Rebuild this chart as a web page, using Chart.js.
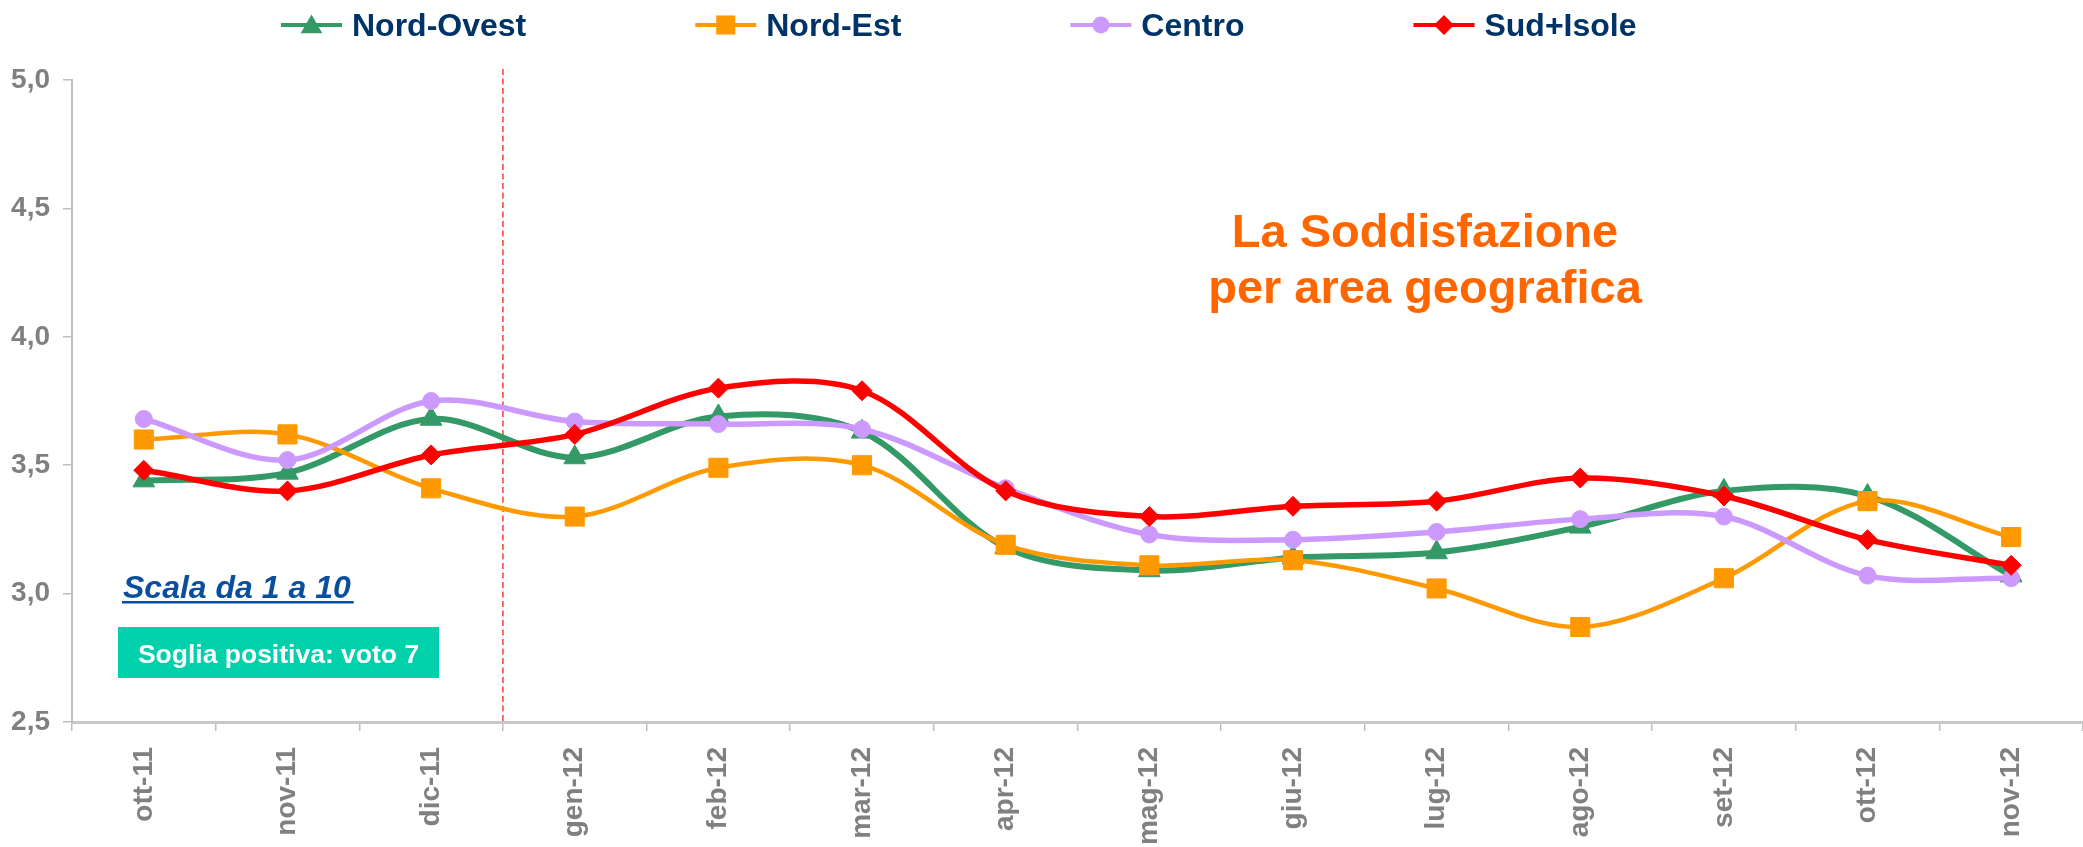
<!DOCTYPE html>
<html>
<head>
<meta charset="utf-8">
<script src="https://cdn.jsdelivr.net/npm/chart.js@4.4.1/dist/chart.umd.min.js"></script>
<style>
  html, body { margin: 0; padding: 0; background: #ffffff; }
  #wrap { width: 2083px; height: 847px; position: relative; }
</style>
</head>
<body>
<div id="wrap"><canvas id="c" width="2083" height="847"></canvas></div>
<script>
// ---------------- DATA ----------------
const categories = ['ott-11','nov-11','dic-11','gen-12','feb-12','mar-12','apr-12','mag-12','giu-12','lug-12','ago-12','set-12','ott-12','nov-12'];
const seriesNames = ['Nord-Ovest', 'Nord-Est', 'Centro', 'Sud+Isole'];
const nordOvest = [3.44, 3.47, 3.68, 3.53, 3.69, 3.63, 3.18, 3.09, 3.14, 3.16, 3.26, 3.40, 3.38, 3.07];
const nordEst   = [3.60, 3.62, 3.41, 3.30, 3.49, 3.50, 3.19, 3.11, 3.13, 3.02, 2.87, 3.06, 3.36, 3.22];
const centro    = [3.68, 3.52, 3.75, 3.67, 3.66, 3.64, 3.41, 3.23, 3.21, 3.24, 3.29, 3.30, 3.07, 3.06];
const sudIsole  = [3.48, 3.40, 3.54, 3.62, 3.80, 3.79, 3.40, 3.30, 3.34, 3.36, 3.45, 3.38, 3.21, 3.11];
const yTickLabels = ['2,5', '3,0', '3,5', '4,0', '4,5', '5,0'];
const titleLines = ['La Soddisfazione', 'per area geografica'];
const scaleNote = 'Scala da 1 a 10';
const thresholdNote = 'Soglia positiva: voto 7';
const dividerAfter = 'dic-11';

// ---------------- STYLE ----------------
const FONT = '"Liberation Sans", Arial, Helvetica, sans-serif';
const LABEL_GRAY = '#808080';
const AXIS_GRAY = '#bfbfbf';
const seriesStyles = [
  { color: '#339966', pointStyle: 'triangle', radius: 12.5, width: 6 },
  { color: '#ff9900', pointStyle: 'rect',     radius: 13.5, width: 4.5 },
  { color: '#cc99ff', pointStyle: 'circle',   radius: 8.5,  width: 5.5 },
  { color: '#ff0000', pointStyle: 'rectRot',  radius: 10,   width: 5.5 }
];
const seriesValues = [nordOvest, nordEst, centro, sudIsole];

const datasets = seriesNames.map((name, i) => {
  const s = seriesStyles[i];
  return {
    label: name,
    data: seriesValues[i],
    borderColor: s.color,
    backgroundColor: s.color,
    borderWidth: s.width,
    pointStyle: s.pointStyle,
    pointRadius: s.radius,
    pointHoverRadius: s.radius,
    pointBackgroundColor: s.color,
    pointBorderColor: s.color,
    pointBorderWidth: 1,
    tension: 0.33,
    fill: false,
    order: seriesNames.length - i
  };
});

// marker drawing for the custom legend (same shapes as Chart.js)
function drawMarker(ctx, style, x, y, r, color) {
  ctx.save();
  ctx.fillStyle = color;
  ctx.beginPath();
  if (style === 'triangle') {
    ctx.moveTo(x, y - r);
    ctx.lineTo(x + Math.sin(2 * Math.PI / 3) * r, y + r / 2);
    ctx.lineTo(x - Math.sin(2 * Math.PI / 3) * r, y + r / 2);
  } else if (style === 'rect') {
    const s = Math.SQRT1_2 * r;
    ctx.rect(x - s, y - s, 2 * s, 2 * s);
  } else if (style === 'rectRot') {
    ctx.moveTo(x, y - r); ctx.lineTo(x + r, y); ctx.lineTo(x, y + r); ctx.lineTo(x - r, y);
  } else {
    ctx.arc(x, y, r, 0, Math.PI * 2);
  }
  ctx.closePath();
  ctx.fill();
  ctx.restore();
}

const legendPlugin = {
  id: 'topLegend',
  afterDraw(chart) {
    const ctx = chart.ctx;
    ctx.save();
    ctx.font = 'bold 32px ' + FONT;
    ctx.textBaseline = 'alphabetic';
    ctx.textAlign = 'left';
    let x = 281;
    const yLine = 25, yText = 36, lineLen = 61, gap = 10, itemGap = 169;
    chart.data.datasets.forEach((ds, i) => {
      const s = seriesStyles[i];
      ctx.strokeStyle = s.color;
      ctx.lineWidth = 4;
      ctx.beginPath();
      ctx.moveTo(x, yLine); ctx.lineTo(x + lineLen, yLine);
      ctx.stroke();
      drawMarker(ctx, s.pointStyle, x + lineLen / 2, yLine + (s.pointStyle === 'triangle' ? 2 : 0), s.radius, s.color);
      ctx.fillStyle = '#003366';
      ctx.fillText(ds.label, x + lineLen + gap, yText);
      x += lineLen + gap + ctx.measureText(ds.label).width + itemGap;
    });
    ctx.restore();
  }
};

const dividerPlugin = {
  id: 'divider',
  beforeDatasetsDraw(chart) {
    const xs = chart.scales.x, area = chart.chartArea, ctx = chart.ctx;
    const idx = categories.indexOf(dividerAfter);
    const px = (xs.getPixelForValue(idx) + xs.getPixelForValue(idx + 1)) / 2;
    ctx.save();
    ctx.strokeStyle = '#ff3b2f';
    ctx.lineWidth = 1.5;
    ctx.setLineDash([6, 3.5]);
    ctx.beginPath();
    ctx.moveTo(px, area.top - 11);
    ctx.lineTo(px, area.bottom);
    ctx.stroke();
    ctx.restore();
  }
};

const notesPlugin = {
  id: 'notes',
  afterDraw(chart) {
    const ctx = chart.ctx;
    ctx.save();
    // title annotation
    ctx.font = 'bold 47px ' + FONT;
    ctx.fillStyle = '#ff6600';
    ctx.textAlign = 'center';
    ctx.textBaseline = 'alphabetic';
    ctx.fillText(titleLines[0], 1425, 247);
    ctx.fillText(titleLines[1], 1425, 303);
    // scale note, italic underlined
    ctx.font = 'italic bold 32px ' + FONT;
    ctx.fillStyle = '#0a4f9e';
    ctx.textAlign = 'left';
    ctx.fillText(scaleNote, 123, 598);
    const w = ctx.measureText(scaleNote).width;
    ctx.fillRect(122, 601, w + 4, 2.5);
    // threshold box
    ctx.fillStyle = '#00d1aa';
    ctx.fillRect(118, 627, 321, 51);
    ctx.font = 'bold 26.5px ' + FONT;
    ctx.fillStyle = '#ffffff';
    ctx.textAlign = 'center';
    ctx.fillText(thresholdNote, 278.5, 663);
    ctx.restore();
  }
};

new Chart(document.getElementById('c'), {
  type: 'line',
  data: { labels: categories, datasets },
  plugins: [dividerPlugin, notesPlugin, legendPlugin],
  options: {
    responsive: false,
    devicePixelRatio: 1,
    animation: false,
    layout: { autoPadding: false, padding: { top: 80, left: 0, right: -3, bottom: 0 } },
    plugins: {
      legend: { display: false },
      title: { display: false },
      tooltip: { enabled: false }
    },
    scales: {
      x: {
        type: 'category',
        offset: true,
        afterFit(scale) { scale.height = 125; scale.paddingLeft = 0; scale.paddingRight = 0; },
        grid: { display: true, drawOnChartArea: false, drawTicks: true, tickLength: 9, offset: true, color: AXIS_GRAY, lineWidth: 1.5 },
        border: { display: true, color: '#c8c8c8', width: 3 },
        ticks: {
          autoSkip: false,
          minRotation: 90,
          maxRotation: 90,
          padding: 16,
          color: LABEL_GRAY,
          font: { family: FONT, size: 28, weight: 'bold' }
        }
      },
      y: {
        min: 2.5,
        max: 5.0,
        afterFit(scale) { scale.width = 72; },
        grid: { display: true, drawOnChartArea: false, drawTicks: true, tickLength: 9, color: AXIS_GRAY, lineWidth: 1.5 },
        border: { display: true, color: AXIS_GRAY, width: 2 },
        ticks: {
          stepSize: 0.5,
          padding: 13,
          color: LABEL_GRAY,
          font: { family: FONT, size: 28, weight: 'bold' },
          callback: (value, index) => yTickLabels[index]
        }
      }
    }
  }
});
</script>
</body>
</html>
